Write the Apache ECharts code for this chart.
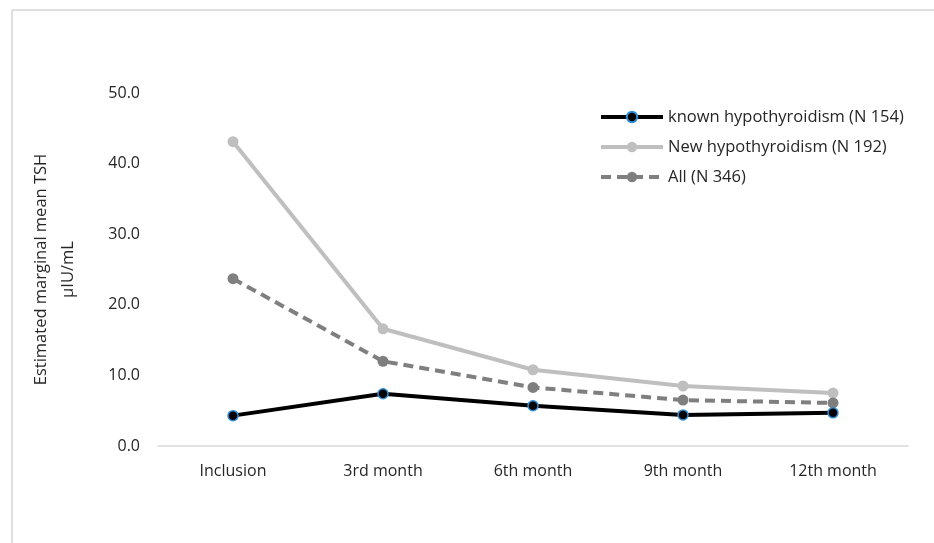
<!DOCTYPE html>
<html>
<head>
<meta charset="utf-8">
<script src="https://cdn.jsdelivr.net/npm/echarts@6/dist/echarts.min.js"></script>
<style>html,body{margin:0;padding:0;background:#fff;}#c{width:934px;height:543px;}</style>
</head>
<body>
<div id="c"></div>
<script>
const categories = ['Inclusion', '3rd month', '6th month', '9th month', '12th month'];
const knownHypo = [4.3, 7.4, 5.7, 4.4, 4.7];
const newHypo = [43.1, 16.6, 10.8, 8.5, 7.5];
const allPatients = [23.7, 12.0, 8.3, 6.5, 6.1];
const seriesNames = ['known hypothyroidism (N 154)', 'New hypothyroidism (N 192)', 'All (N 346)'];
const yTicks = [0, 10, 20, 30, 40, 50];

const font = 'Open Sans';
const chart = echarts.init(document.getElementById('c'));
chart.setOption({
  backgroundColor: '#fff',
  animation: false,
  graphic: [
    { type: 'line', shape: { x1: 12, y1: 10, x2: 934, y2: 10 }, style: { stroke: '#d4d4d4', lineWidth: 1.5 } },
    { type: 'line', shape: { x1: 12, y1: 10, x2: 12, y2: 543 }, style: { stroke: '#d4d4d4', lineWidth: 1.5 } }
  ],
  grid: { left: 158, right: 26, top: 93, bottom: 97, containLabel: false, outerBoundsMode: 'none' },
  legend: {
    orient: 'vertical',
    left: 594, top: 101,
    itemGap: 8,
    itemWidth: 62, itemHeight: 13,
    lineStyle: { width: 4 },
    textStyle: { fontFamily: font, fontSize: 16.5, color: '#262626', lineHeight: 22 },
    data: seriesNames
  },
  xAxis: {
    type: 'category',
    data: categories,
    boundaryGap: true,
    axisLine: { lineStyle: { color: '#d9d9d9', width: 1.5 } },
    axisTick: { show: false },
    axisLabel: { fontFamily: font, fontSize: 16, color: '#262626', margin: 17 }
  },
  yAxis: {
    type: 'value',
    min: yTicks[0], max: yTicks[yTicks.length - 1], interval: 10,
    axisLine: { show: false },
    axisTick: { show: false },
    splitLine: { show: false },
    axisLabel: { fontFamily: font, fontSize: 16, color: '#262626', margin: 18, formatter: v => v.toFixed(1) },
    name: 'Estimated marginal mean TSH\nµIU/mL',
    nameLocation: 'middle',
    nameGap: 76,
    nameTextStyle: { fontFamily: font, fontSize: 16.5, color: '#262626', lineHeight: 27 }
  },
  series: [
    {
      name: seriesNames[1], type: 'line', data: newHypo, z: 2,
      symbol: 'circle', symbolSize: 11,
      lineStyle: { color: '#bfbfbf', width: 4 },
      itemStyle: { color: '#bfbfbf' }
    },
    {
      name: seriesNames[2], type: 'line', data: allPatients, z: 3,
      symbol: 'circle', symbolSize: 11,
      lineStyle: { color: '#7f7f7f', width: 4, type: [10, 6] },
      itemStyle: { color: '#7f7f7f' }
    },
    {
      name: seriesNames[0], type: 'line', data: knownHypo, z: 4,
      symbol: 'circle', symbolSize: 10,
      lineStyle: { color: '#000', width: 4 },
      itemStyle: { color: '#000', borderColor: '#2e8fd6', borderWidth: 1.5 }
    }
  ]
});
</script>
</body>
</html>
